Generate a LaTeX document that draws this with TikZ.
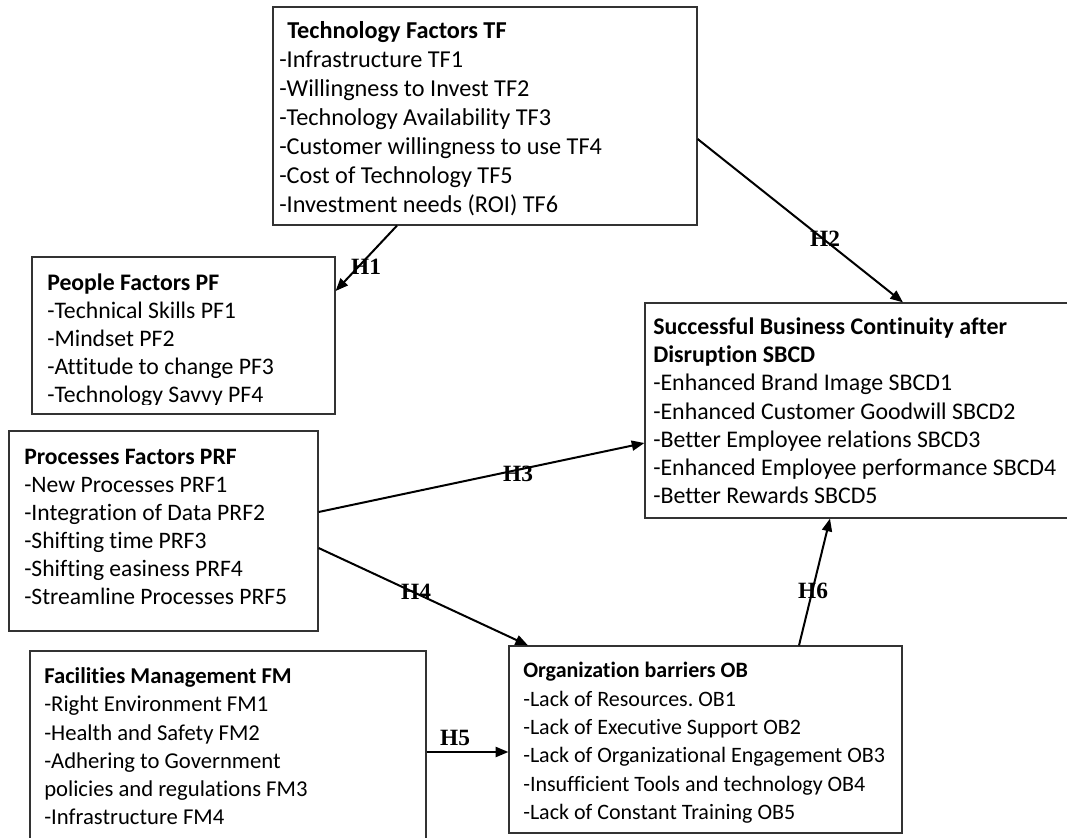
\documentclass[tikz,border=0pt]{standalone}
\usepackage{fontspec}
\setmainfont{Carlito}[Ligatures=NoCommon]
\newfontfamily\hlabfont{Liberation Serif}
\usetikzlibrary{arrows.meta,fit}
\frenchspacing
\begin{document}
\begin{tikzpicture}[x=0.75pt,y=-0.75pt,
  box/.style={draw=black!80,line width=0.9pt,inner sep=0pt},
  txt/.style={anchor=north west,inner sep=0pt,align=left,font=\fontsize{17}{21.2}\selectfont},
  hlab/.style={font=\hlabfont\bfseries\fontsize{17.5}{20}\selectfont,inner sep=0pt},
  arr/.style={line width=1.5pt,-{Triangle[length=9.5pt,width=7.5pt]}}]
\useasboundingbox (0,0) rectangle (1067,838);
\clip (0,0) rectangle (1067,838);
% boxes
\node[box,fit={(273,7) (697,225)}] (tf) {};
\node[box,fit={(32,257) (335,414)}] (pf) {};
\node[box,fit={(9,431) (318,631)}] (prf) {};
\node[box,fit={(645,303) (1070,518)}] (sbcd) {};
\node[box,fit={(30,651) (426,845)}] (fm) {};
\node[box,fit={(509,646) (902,833)}] (ob) {};
% texts
\node[txt,font=\fontsize{18.2}{21.75}\selectfont] (tftext) at (279,19.2) {\hspace*{6pt}\rule{0pt}{14pt}\textbf{Technology Factors TF}\\-Infrastructure TF1\\-Willingness to Invest TF2\\-Technology Availability TF3\\-Customer willingness to use TF4\\-Cost of Technology TF5\\-Investment needs (ROI) TF6};
\begin{scope}
\clip (32,257) rectangle (335,404.5);
\node[txt,font=\fontsize{17.8}{21}\selectfont] (pftext) at (47,271.3) {\rule{0pt}{14pt}\textbf{People Factors PF}\\-Technical Skills PF1\\-Mindset PF2\\-Attitude to change PF3\\-Technology Savvy PF4};
\end{scope}
\node[txt,font=\fontsize{17.7}{21}\selectfont] (prftext) at (24,445.3) {\rule{0pt}{14pt}\textbf{Processes Factors PRF}\\-New Processes PRF1\\-Integration of Data PRF2\\-Shifting time PRF3\\-Shifting easiness PRF4\\-Streamline Processes PRF5};
\node[txt,font=\fontsize{17.9}{21.2}\selectfont] (sbcdtext) at (653,315.3) {\rule{0pt}{14pt}\textbf{Successful Business Continuity after}\\\textbf{Disruption SBCD}\\-Enhanced Brand Image SBCD1\\-Enhanced Customer Goodwill SBCD2\\-Better Employee relations SBCD3\\-Enhanced Employee performance SBCD4\\-Better Rewards SBCD5};
\node[txt,font=\fontsize{16.5}{21.2}\selectfont] (obtext) at (523,659) {\rule{0pt}{14pt}\textbf{Organization barriers OB}\\-Lack of Resources. OB1\\-Lack of Executive Support OB2\\-Lack of Organizational Engagement OB3\\-Insufficient Tools and technology OB4\\-Lack of Constant Training OB5};
\node[txt] (fmtext) at (44,664.6) {\rule{0pt}{14pt}\textbf{Facilities Management FM}\\-Right Environment FM1\\-Health and Safety FM2\\-Adhering to Government\\policies and regulations FM3\\-Infrastructure FM4};
% connectors
\draw[arr] (397,0 |- tf.south) -- (pf.east |- 0,291);
\draw[arr] (tf.east |- 0,139) -- (903,0 |- sbcd.north);
\draw[arr] (prf.east |- 0,512) -- (sbcd.west |- 0,443);
\draw[arr] (prf.east |- 0,548) -- (528,0 |- ob.north);
\draw[arr] (fm.east |- 0,752) -- (ob.west |- 0,752);
\draw[arr] (799,0 |- ob.north) -- (830,0 |- sbcd.south);
% labels
\node[hlab] (h1) at (366,267) {H1};
\node[hlab] (h2) at (825,239) {H2};
\node[hlab] (h3) at (518,474) {H3};
\node[hlab] (h4) at (416,592) {H4};
\node[hlab] (h5) at (455,738) {H5};
\node[hlab] (h6) at (813,591) {H6};
\end{tikzpicture}
\end{document}
